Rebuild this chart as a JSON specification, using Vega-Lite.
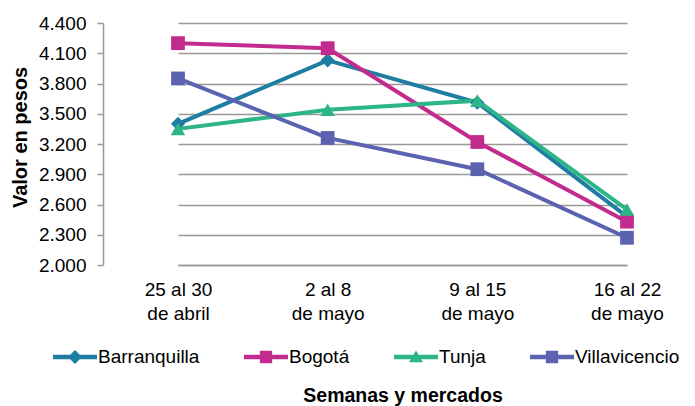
{
  "$schema": "https://vega.github.io/schema/vega-lite/v6.json",
  "width": 592,
  "height": 242,
  "autosize": {"type": "none"},
  "padding": {"left": 103, "top": 23, "right": 0, "bottom": 141},
  "background": "white",
  "config": {
    "font": "Liberation Sans",
    "view": {"stroke": null},
    "axis": {"labelColor": "#000", "titleColor": "#000", "domainColor": "#999", "domainWidth": 1.5, "tickColor": "#999", "tickWidth": 1.5, "gridColor": "#999", "gridWidth": 1.3}
  },
  "data": {
    "values": [
      {"semana": "25 al 30 de abril", "mercado": "Barranquilla", "valor": 3400},
      {"semana": "2 al 8 de mayo", "mercado": "Barranquilla", "valor": 4030},
      {"semana": "9 al 15 de mayo", "mercado": "Barranquilla", "valor": 3610},
      {"semana": "16 al 22 de mayo", "mercado": "Barranquilla", "valor": 2480},
      {"semana": "25 al 30 de abril", "mercado": "Bogotá", "valor": 4200},
      {"semana": "2 al 8 de mayo", "mercado": "Bogotá", "valor": 4150},
      {"semana": "9 al 15 de mayo", "mercado": "Bogotá", "valor": 3220},
      {"semana": "16 al 22 de mayo", "mercado": "Bogotá", "valor": 2430},
      {"semana": "25 al 30 de abril", "mercado": "Tunja", "valor": 3350},
      {"semana": "2 al 8 de mayo", "mercado": "Tunja", "valor": 3540},
      {"semana": "9 al 15 de mayo", "mercado": "Tunja", "valor": 3630},
      {"semana": "16 al 22 de mayo", "mercado": "Tunja", "valor": 2550},
      {"semana": "25 al 30 de abril", "mercado": "Villavicencio", "valor": 3850},
      {"semana": "2 al 8 de mayo", "mercado": "Villavicencio", "valor": 3260},
      {"semana": "9 al 15 de mayo", "mercado": "Villavicencio", "valor": 2950},
      {"semana": "16 al 22 de mayo", "mercado": "Villavicencio", "valor": 2270}
    ]
  },
  "encoding": {
    "x": {
      "field": "semana",
      "type": "nominal",
      "sort": ["25 al 30 de abril", "2 al 8 de mayo", "9 al 15 de mayo", "16 al 22 de mayo"],
      "scale": {"type": "point", "range": [75, 524], "padding": 0},
      "axis": {
        "title": "Semanas y mercados",
        "titleFontSize": 19.5,
        "titleFontWeight": "bold",
        "titlePadding": 63,
        "labelAngle": 0,
        "labelFontSize": 19,
        "labelLineHeight": 24,
        "labelPadding": 15,
        "ticks": false,
        "grid": false,
        "labelExpr": "[slice(datum.value, 0, indexof(datum.value, ' de ')), slice(datum.value, indexof(datum.value, ' de ') + 1)]"
      }
    },
    "y": {
      "field": "valor",
      "type": "quantitative",
      "scale": {"domain": [2000, 4400], "nice": false, "zero": false},
      "axis": {
        "title": "Valor en pesos",
        "titleFontSize": 20,
        "titleFontWeight": "bold",
        "titlePadding": 8,
        "titleY": 114,
        "labelFontSize": 19,
        "labelPadding": 11,
        "tickSize": 6,
        "values": [2000, 2300, 2600, 2900, 3200, 3500, 3800, 4100, 4400],
        "labelExpr": "replace(format(datum.value, ',d'), ',', '.')"
      }
    },
    "color": {
      "field": "mercado",
      "type": "nominal",
      "scale": {"domain": ["Barranquilla", "Bogotá", "Tunja", "Villavicencio"], "range": ["#1F7DA3", "#C12B8E", "#2DB58A", "#5B63B0"]},
      "legend": {
        "orient": "none",
        "legendX": -50,
        "legendY": 312,
        "direction": "horizontal",
        "title": null,
        "labelFontSize": 19,
        "labelColor": "#000",
        "labelOffset": 1,
        "columnPadding": 44,
        "symbolStrokeWidth": 0,
        "symbolSize": 1936,
        "encode": {
          "symbols": {
            "update": {
              "shape": {"signal": "datum.value === 'Barranquilla' ? 'M-1,-0.1H1V0.1H-1Z M0,-0.32L0.32,0L0,0.32L-0.32,0Z' : (datum.value === 'Tunja' ? 'M-1,-0.1H1V0.1H-1Z M0,-0.3L0.32,0.24L-0.32,0.24Z' : 'M-1,-0.1H1V0.1H-1Z M-0.28,-0.28H0.28V0.28H-0.28Z')"},
              "size": {"value": 1936},
              "fill": {"scale": "color", "field": "value"},
              "fillOpacity": {"value": 1},
              "opacity": {"value": 1},
              "strokeWidth": {"value": 0}
            }
          }
        }
      }
    }
  },
  "layer": [
    {
      "mark": {"type": "line", "strokeWidth": 4}
    },
    {
      "transform": [{"filter": "datum.mercado === 'Barranquilla'"}],
      "mark": {"type": "point", "filled": true, "opacity": 1, "shape": "diamond", "size": 200}
    },
    {
      "transform": [{"filter": "datum.mercado === 'Bogotá'"}],
      "mark": {"type": "point", "filled": true, "opacity": 1, "shape": "square", "size": 190}
    },
    {
      "transform": [{"filter": "datum.mercado === 'Tunja'"}],
      "mark": {"type": "point", "filled": true, "opacity": 1, "shape": "triangle-up", "size": 210}
    },
    {
      "transform": [{"filter": "datum.mercado === 'Villavicencio'"}],
      "mark": {"type": "point", "filled": true, "opacity": 1, "shape": "square", "size": 190}
    }
  ]
}
